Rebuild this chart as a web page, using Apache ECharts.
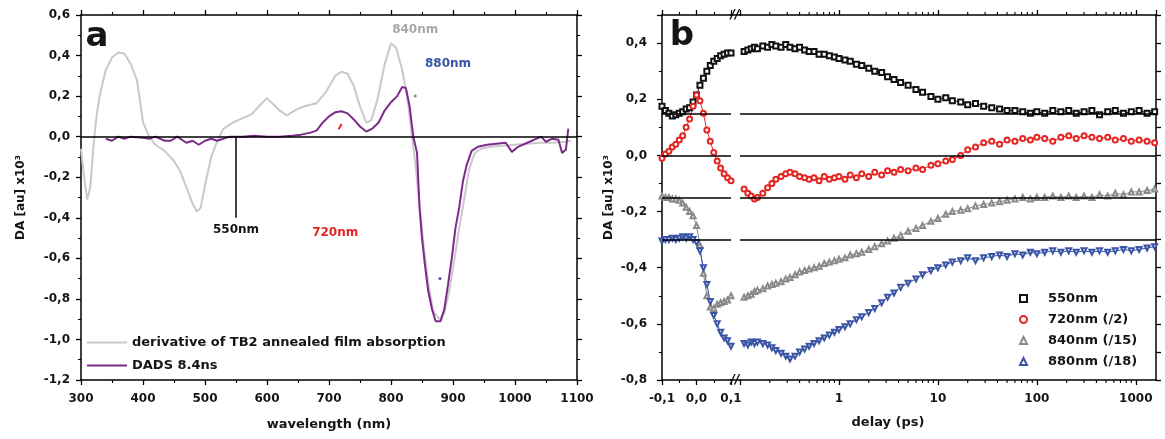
<!DOCTYPE html>
<html><head><meta charset="utf-8">
<script src="https://cdn.jsdelivr.net/npm/echarts@6/dist/echarts.min.js"></script>
<style>html,body{margin:0;padding:0;background:#fff}#c{width:1165px;height:439px}</style>
</head><body><div id="c"></div>
<script>
// ---------- Panel a data ----------
const waveGray = [300,305,310,315,320,325,330,340,350,360,370,380,390,395,400,410,420,435,450,460,470,480,487,493,500,510,520,530,545,560,575,590,600,610,620,632,645,660,680,695,710,720,730,740,750,760,768,778,790,800,808,818,826,832,838,845,852,860,868,878,886,894,902,910,918,926,935,945,960,980,1000,1020,1040,1060,1080,1090];
const derivGray = [-0.06,-0.2,-0.31,-0.25,-0.05,0.1,0.2,0.33,0.39,0.415,0.41,0.36,0.28,0.18,0.07,0.0,-0.04,-0.07,-0.12,-0.17,-0.25,-0.33,-0.37,-0.35,-0.24,-0.1,-0.02,0.04,0.07,0.09,0.11,0.16,0.19,0.16,0.13,0.105,0.13,0.15,0.165,0.22,0.3,0.32,0.31,0.25,0.15,0.07,0.08,0.18,0.36,0.46,0.44,0.33,0.2,0.05,-0.1,-0.3,-0.52,-0.72,-0.86,-0.9,-0.87,-0.76,-0.61,-0.45,-0.31,-0.16,-0.08,-0.06,-0.05,-0.045,-0.04,-0.035,-0.03,-0.03,-0.025,-0.02];
const waveDads = [340,350,360,370,380,400,410,420,435,445,455,460,470,480,490,500,510,520,540,560,580,600,620,640,655,670,680,690,700,710,720,730,740,750,760,770,780,790,800,810,818,824,830,836,842,846,850,855,860,866,872,880,886,892,898,904,910,916,922,930,940,955,970,985,995,1005,1020,1035,1042,1050,1060,1070,1076,1082,1086];
const dads = [-0.01,-0.02,0,-0.01,0,-0.005,-0.01,0,-0.02,-0.02,0,-0.01,-0.03,-0.02,-0.04,-0.02,-0.01,-0.02,0,0,0.005,0,0,0.005,0.01,0.02,0.03,0.07,0.1,0.12,0.125,0.115,0.085,0.05,0.025,0.04,0.07,0.13,0.17,0.2,0.245,0.24,0.15,0.0,-0.08,-0.35,-0.5,-0.64,-0.76,-0.85,-0.91,-0.91,-0.85,-0.73,-0.6,-0.45,-0.35,-0.22,-0.14,-0.07,-0.05,-0.04,-0.035,-0.03,-0.075,-0.05,-0.03,-0.01,0.0,-0.025,-0.01,-0.015,-0.08,-0.065,0.04];

// ---------- Panel b data ----------
const delayLin = [-0.1,-0.09,-0.08,-0.07,-0.06,-0.05,-0.04,-0.03,-0.02,-0.01,0.0,0.01,0.02,0.03,0.04,0.05,0.06,0.07,0.08,0.09,0.1];
const delayLog = [0.11,0.12,0.13,0.14,0.15,0.17,0.19,0.21,0.23,0.26,0.29,0.32,0.36,0.4,0.45,0.5,0.56,0.63,0.71,0.8,0.9,1.0,1.15,1.3,1.5,1.7,2.0,2.3,2.7,3.1,3.6,4.2,5,6,7,8.5,10,12,14,17,20,24,29,35,42,50,60,72,86,100,120,145,175,210,250,300,360,430,520,620,750,900,1080,1300,1550];

const k550Lin = [0.175,0.16,0.15,0.14,0.145,0.15,0.155,0.165,0.17,0.19,0.215,0.25,0.275,0.3,0.32,0.335,0.345,0.355,0.36,0.365,0.365];
const k550Log = [0.37,0.375,0.38,0.385,0.38,0.39,0.385,0.395,0.39,0.385,
 0.395,0.385,0.38,0.385,0.375,0.37,0.37,0.36,0.36,0.355,
 0.35,0.345,0.34,0.335,0.325,0.32,0.31,0.3,0.295,0.28,
 0.27,0.26,0.25,0.235,0.225,0.21,0.2,0.205,0.195,0.19,
 0.18,0.185,0.175,0.17,0.165,0.16,0.16,0.155,0.15,0.155,
 0.15,0.16,0.155,0.16,0.15,0.155,0.16,0.145,0.155,0.16,
 0.15,0.155,0.16,0.15,0.155];

const k720Lin = [-0.01,0.005,0.015,0.03,0.04,0.055,0.07,0.1,0.13,0.175,0.215,0.195,0.15,0.09,0.05,0.01,-0.02,-0.045,-0.065,-0.08,-0.09];
const k720Log = [-0.12,-0.135,-0.145,-0.155,-0.15,-0.135,-0.115,-0.1,-0.085,-0.075,
 -0.065,-0.06,-0.065,-0.075,-0.08,-0.085,-0.08,-0.09,-0.075,-0.085,
 -0.08,-0.075,-0.085,-0.07,-0.08,-0.065,-0.075,-0.06,-0.07,-0.055,
 -0.06,-0.05,-0.055,-0.045,-0.05,-0.035,-0.03,-0.02,-0.015,0.0,
 0.02,0.03,0.045,0.05,0.04,0.055,0.05,0.06,0.055,0.065,
 0.06,0.05,0.065,0.07,0.06,0.07,0.065,0.06,0.065,0.055,
 0.06,0.05,0.055,0.05,0.045];

const k840Lin = [-0.145,-0.15,-0.15,-0.155,-0.155,-0.16,-0.17,-0.185,-0.2,-0.215,-0.25,-0.32,-0.42,-0.5,-0.54,-0.545,-0.53,-0.525,-0.52,-0.515,-0.5];
const k840Log = [-0.505,-0.5,-0.495,-0.485,-0.48,-0.475,-0.465,-0.46,-0.455,-0.45,
 -0.44,-0.435,-0.425,-0.415,-0.41,-0.405,-0.4,-0.395,-0.385,-0.38,
 -0.375,-0.37,-0.365,-0.355,-0.35,-0.345,-0.335,-0.325,-0.315,-0.305,
 -0.295,-0.285,-0.27,-0.26,-0.25,-0.235,-0.225,-0.21,-0.2,-0.195,
 -0.19,-0.18,-0.175,-0.17,-0.165,-0.16,-0.155,-0.15,-0.155,-0.15,
 -0.15,-0.145,-0.15,-0.145,-0.15,-0.145,-0.15,-0.14,-0.145,-0.135,
 -0.14,-0.13,-0.13,-0.125,-0.12];

const k880Lin = [-0.305,-0.3,-0.3,-0.295,-0.3,-0.295,-0.29,-0.295,-0.29,-0.3,-0.31,-0.34,-0.4,-0.46,-0.52,-0.57,-0.6,-0.63,-0.65,-0.66,-0.68];
const k880Log = [-0.67,-0.675,-0.665,-0.67,-0.665,-0.67,-0.675,-0.685,-0.695,-0.705,
 -0.715,-0.725,-0.715,-0.7,-0.69,-0.68,-0.67,-0.66,-0.65,-0.64,
 -0.63,-0.62,-0.61,-0.6,-0.585,-0.575,-0.56,-0.545,-0.525,-0.505,
 -0.49,-0.47,-0.455,-0.44,-0.425,-0.41,-0.4,-0.39,-0.38,-0.375,
 -0.365,-0.375,-0.365,-0.36,-0.355,-0.36,-0.35,-0.355,-0.345,-0.35,
 -0.345,-0.34,-0.345,-0.34,-0.345,-0.34,-0.345,-0.34,-0.345,-0.34,
 -0.335,-0.34,-0.335,-0.33,-0.325];

const baselines = [0.15, 0, -0.15, -0.3];
const logMinorTicks = [0.2,0.3,0.4,0.5,0.6,0.7,0.8,0.9,2,3,4,5,6,7,8,9,20,30,40,50,60,70,80,90,200,300,400,500,600,700,800,900];

const xTicksLinLabels = ['-0,1','0,0','0,1'];

// ---------- styles ----------
const FONT = 'DejaVu Sans, Liberation Sans, Arial, sans-serif';
const TXT = '#151515';
const axLine = {show:true, onZero:false, lineStyle:{color:'#000', width:1.5}};
const tick = {show:true, inside:false, length:5, lineStyle:{color:'#000', width:1.3}};
const minor = {show:true, splitNumber:2, length:3, lineStyle:{color:'#000', width:1.1}};
const lbl = {color:TXT, fontFamily:FONT, fontWeight:'bold', fontSize:12};
const noLbl = {show:false};
const noSplit = {show:false};
const comma = v => (Math.abs(v) < 1e-9 ? 0 : v).toFixed(1).replace('.', ',');

const chart = echarts.init(document.getElementById('c'), null, {renderer:'canvas'});

function pair(xs, ys){ return xs.map((x,i)=>[x, ys[i]]); }

const C550 = '#111111', C720 = '#e52521', C840 = '#8a8a8a', C880 = '#3a55a6';

function kin(name, color, symbol, rotate, lin, log, withBase){
  const base = {
    name, type:'line', symbol, symbolSize:5, symbolRotate:rotate, showSymbol:true,
    lineStyle:{color, width:1}, itemStyle:{color, borderColor:color, borderWidth:1},
    emphasis:{disabled:true}, z:3
  };
  const ml = withBase ? {
    symbol:['none','none'], silent:true, label:{show:false},
    lineStyle:{color:'#000', width:1.5, type:'solid'},
    data: baselines.map(v=>({yAxis:v}))
  } : undefined;
  return [
    Object.assign({}, base, {xAxisIndex:2, yAxisIndex:2, data: pair(delayLin, lin), markLine: ml}),
    Object.assign({}, base, {xAxisIndex:4, yAxisIndex:3, data: pair(delayLog, log), markLine: ml})
  ];
}

const option = {
  animation:false,
  backgroundColor:'#fff',
  textStyle:{fontFamily:FONT},
  grid:[
    {left:81, top:15, width:496, height:365},
    {left:662, top:15, width:69, height:365},
    {left:740, top:15, width:416, height:365}
  ],
  xAxis:[
    {type:'value', gridIndex:0, position:'bottom', min:300, max:1100, interval:100,
     axisLine:axLine, axisTick:tick, minorTick:minor, splitLine:noSplit, minorSplitLine:noSplit,
     axisLabel:Object.assign({margin:13, formatter: v => String(Math.round(v))}, lbl),
     name:'wavelength (nm)', nameLocation:'middle', nameGap:38,
     nameTextStyle:{color:TXT, fontFamily:FONT, fontWeight:'bold', fontSize:13}},
    {type:'value', gridIndex:0, position:'top', min:300, max:1100, interval:100,
     axisLine:axLine, axisTick:tick, minorTick:minor, splitLine:noSplit, axisLabel:noLbl},
    {type:'value', gridIndex:1, position:'bottom', min:-0.1, max:0.1, interval:0.1,
     axisLine:axLine, axisTick:tick, minorTick:minor, splitLine:noSplit,
     axisLabel:Object.assign({margin:13, formatter: v => { const i = Math.round((v+0.1)/0.1); return xTicksLinLabels[i] || ''; }}, lbl)},
    {type:'value', gridIndex:1, position:'top', min:-0.1, max:0.1, interval:0.1,
     axisLine:axLine, axisTick:tick, minorTick:minor, splitLine:noSplit, axisLabel:noLbl},
    {type:'log', logBase:10, gridIndex:2, position:'bottom', min:0.1, max:1600,
     axisLine:axLine, axisTick:tick, splitLine:noSplit,
     axisLabel:Object.assign({margin:13, showMaxLabel:false, formatter: v => (v < 0.5 || v > 1500) ? '' : String(Math.round(v))}, lbl)},
    {type:'log', logBase:10, gridIndex:2, position:'top', min:0.1, max:1600,
     axisLine:axLine, axisTick:tick, splitLine:noSplit, axisLabel:noLbl}
  ],
  yAxis:[
    {type:'value', gridIndex:0, position:'left', min:-1.2, max:0.6, interval:0.2,
     axisLine:axLine, axisTick:tick, minorTick:minor, splitLine:noSplit,
     axisLabel:Object.assign({margin:11, formatter: comma}, lbl),
     name:'DA [au] x10³', nameLocation:'middle', nameGap:54, nameRotate:90,
     nameTextStyle:{color:TXT, fontFamily:FONT, fontWeight:'bold', fontSize:12}},
    {type:'value', gridIndex:0, position:'right', min:-1.2, max:0.6, interval:0.2,
     axisLine:axLine, axisTick:tick, minorTick:minor, splitLine:noSplit, axisLabel:noLbl},
    {type:'value', gridIndex:1, position:'left', min:-0.8, max:0.5, interval:0.2,
     axisLine:axLine, axisTick:tick, minorTick:minor, splitLine:noSplit,
     axisLabel:Object.assign({margin:15, formatter: v => v > 0.45 ? '' : comma(v)}, lbl),
     name:'DA [au] x10³', nameLocation:'middle', nameGap:47, nameRotate:90,
     nameTextStyle:{color:TXT, fontFamily:FONT, fontWeight:'bold', fontSize:12}},
    {type:'value', gridIndex:2, position:'right', min:-0.8, max:0.5, interval:0.1,
     axisLine:axLine, axisTick:tick, splitLine:noSplit, axisLabel:noLbl}
  ],
  legend:[
    {left:82, top:331, orient:'vertical', itemWidth:40, itemHeight:2, itemGap:10, icon:'rect',
     selectedMode:false,
     textStyle:{color:TXT, fontFamily:FONT, fontWeight:'bold', fontSize:13},
     data:['derivative of TB2 annealed film absorption','DADS 8.4ns']},
    {left:1014, top:287, orient:'vertical', itemWidth:7, itemHeight:7, itemGap:8,
     selectedMode:false, symbolRotate:'inherit',
     textStyle:{color:TXT, fontFamily:FONT, fontWeight:'bold', fontSize:13, padding:[0,0,0,16]},
     data:[
       {name:'550nm', icon:'emptyRect'},
       {name:'720nm (/2)', icon:'emptyCircle'},
       {name:'840nm (/15)', icon:'emptyTriangle'},
       {name:'880nm (/18)', icon:'emptyTriangle'}
     ]}
  ],
  graphic:[
    {type:'text', x:97, y:37, style:{text:'a', font:'bold 34px '+FONT, fill:TXT, align:'center', verticalAlign:'middle'}},
    {type:'text', x:682, y:36, style:{text:'b', font:'bold 34px '+FONT, fill:TXT, align:'center', verticalAlign:'middle'}},
    {type:'line', shape:{x1:730, y1:15, x2:741, y2:15}, style:{stroke:'#000', lineWidth:1.5}},
    {type:'line', shape:{x1:730, y1:380, x2:741, y2:380}, style:{stroke:'#000', lineWidth:1.5}},
    {type:'text', x:735, y:15, style:{text:'//', font:'italic bold 12px '+FONT, fill:'#000', align:'center', verticalAlign:'middle'}},
    {type:'text', x:735, y:380, style:{text:'//', font:'italic bold 12px '+FONT, fill:'#000', align:'center', verticalAlign:'middle'}},
    {type:'text', x:888, y:423, style:{text:'delay (ps)', font:'bold 13px '+FONT, fill:TXT, align:'center', verticalAlign:'middle'}}
  ],
  series:[
    {name:'derivative of TB2 annealed film absorption', type:'line', xAxisIndex:0, yAxisIndex:0,
     data: pair(waveGray, derivGray), showSymbol:false, symbol:'none',
     lineStyle:{color:'#c9c9c9', width:2}, itemStyle:{color:'#c9c9c9'}, emphasis:{disabled:true}, z:2,
     markLine:{symbol:['none','none'], silent:true, label:{show:false},
       lineStyle:{color:'#000', width:1.5, type:'solid'},
       data:[
         {yAxis:0},
         [{coord:[550,0]}, {coord:[550,-0.4], label:{show:true, position:'end', distance:6, formatter:'550nm', color:TXT, fontFamily:FONT, fontWeight:'bold', fontSize:12}}]
       ]}},
    {name:'DADS 8.4ns', type:'line', xAxisIndex:0, yAxisIndex:0,
     data: pair(waveDads, dads), showSymbol:false, symbol:'none',
     lineStyle:{color:'#7d2b8b', width:2}, itemStyle:{color:'#7d2b8b'}, emphasis:{disabled:true}, z:4,
     markPoint:{silent:true, data:[
       {coord:[839,0.526], symbol:'circle', symbolSize:1, itemStyle:{color:'rgba(0,0,0,0)'}, label:{show:true, position:'inside', formatter:'840nm', color:'#a9a9a9', fontFamily:FONT, fontWeight:'bold', fontSize:12}},
       {coord:[892,0.358], symbol:'circle', symbolSize:1, itemStyle:{color:'rgba(0,0,0,0)'}, label:{show:true, position:'inside', formatter:'880nm', color:C880, fontFamily:FONT, fontWeight:'bold', fontSize:12}},
       {coord:[710,-0.475], symbol:'circle', symbolSize:1, itemStyle:{color:'rgba(0,0,0,0)'}, label:{show:true, position:'inside', formatter:'720nm', color:C720, fontFamily:FONT, fontWeight:'bold', fontSize:12}},
       {coord:[839,0.2], symbol:'circle', symbolSize:3, itemStyle:{color:'#888'}, label:{show:false}},
       {coord:[718,0.05], symbol:'rect', symbolSize:[2,6], symbolRotate:-30, itemStyle:{color:C720}, label:{show:false}},
       {coord:[879,-0.7], symbol:'circle', symbolSize:3, itemStyle:{color:C880}, label:{show:false}}
     ]}},
    ...kin('550nm', C550, 'emptyRect', 0, k550Lin, k550Log, true),
    ...kin('720nm (/2)', C720, 'emptyCircle', 0, k720Lin, k720Log, false),
    ...kin('840nm (/15)', C840, 'emptyTriangle', 0, k840Lin, k840Log, false),
    ...kin('880nm (/18)', C880, 'emptyTriangle', 180, k880Lin, k880Log, false),
    {type:'custom', xAxisIndex:4, yAxisIndex:3, silent:true, clip:false, z:5,
     data: logMinorTicks.map(t=>[t, 0]), encode:{x:0, y:1},
     renderItem:(params, api) => {
       const t = api.value(0);
       const pb = api.coord([t, -0.8]);
       const pt = api.coord([t, 0.5]);
       const st = {stroke:'#000', lineWidth:1.1};
       return {type:'group', children:[
         {type:'line', shape:{x1:pb[0], y1:pb[1], x2:pb[0], y2:pb[1]+3}, style:st},
         {type:'line', shape:{x1:pt[0], y1:pt[1], x2:pt[0], y2:pt[1]-3}, style:st}
       ]};
     }}
  ]
};
chart.setOption(option);
</script></body></html>
